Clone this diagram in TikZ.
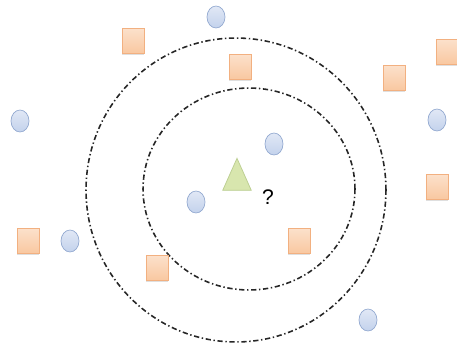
\documentclass[tikz,border=0pt]{standalone}
\usepackage{fontspec}
\setmainfont{Liberation Sans}
\usetikzlibrary{shapes.geometric, shadows}
\definecolor{sqfill}{HTML}{F9C7A0}
\definecolor{sqedge}{HTML}{F2B080}
\definecolor{cifill}{HTML}{C3D2EC}
\definecolor{ciedge}{HTML}{93A9D0}
\definecolor{trfill}{HTML}{D8E6AE}
\definecolor{tredge}{HTML}{B9CC8E}
\begin{document}
\begin{tikzpicture}[x=0.02cm,y=-0.02cm,font=\large,
  sq/.style={draw=sqedge,line width=0.4pt,top color=sqfill!55,bottom color=sqfill,minimum width=0.44cm,minimum height=0.5cm,inner sep=0pt,drop shadow={shadow xshift=0.2pt,shadow yshift=-0.8pt,opacity=0.25}},
  ci/.style={draw=ciedge,line width=0.4pt,ellipse,top color=cifill!50,bottom color=cifill,minimum width=0.36cm,minimum height=0.44cm,inner sep=0pt},
  tr/.style={draw=tredge,isosceles triangle,shape border rotate=90,isosceles triangle apex angle=48,fill=trfill,minimum height=0.64cm,inner sep=0pt},
  ring/.style={draw=black!85,line width=0.9pt,dash pattern=on 3pt off 1.5pt on 0.8pt off 1.5pt}]
  \useasboundingbox (0,0) rectangle (457,349);
  % circles round the unknown point
  \node[ring,ellipse,minimum width=6cm,minimum height=6.08cm](outer) at (236,190){};
  \node[ring,ellipse,minimum width=4.24cm,minimum height=4.04cm](inner) at (249,189){};
  % class A (squares)
  \foreach \n/\x/\y in {s1/133/41,s2/240/67,s3/394/78,s4/447/52,s5/437/187,s6/299/241,s7/157/268,s8/28/241}
    \node[sq](\n) at (\x,\y){};
  % class B (circles)
  \foreach \n/\x/\y in {c1/216/17,c2/20/121,c3/274/144,c4/437/120,c5/196/202,c6/70/241,c7/368/320}
    \node[ci](\n) at (\x,\y){};
  \node[tr](q) at (237,181){};
  \node[inner sep=0pt](qm) at (268,197){?};
\end{tikzpicture}
\end{document}
